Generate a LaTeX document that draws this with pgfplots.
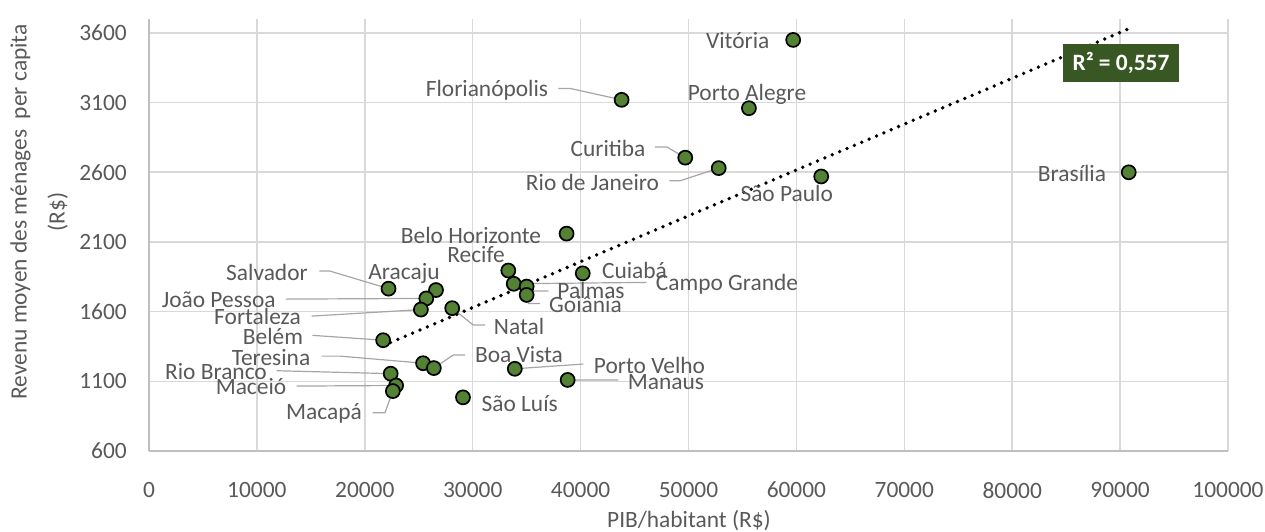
\documentclass[border=0pt]{standalone}
\usepackage{fontspec}
\setmainfont{Carlito}
\usepackage{pgfplots}
\pgfplotsset{compat=1.18}
\definecolor{txt}{HTML}{595959}
\definecolor{gridc}{HTML}{D9D9D9}
\definecolor{axisc}{HTML}{BFBFBF}
\definecolor{leadc}{HTML}{A6A6A6}
\definecolor{ptgreen}{HTML}{548235}
\definecolor{r2green}{HTML}{385723}

\begin{document}
\begin{tikzpicture}[font=\fontsize{11.7}{14}\selectfont,
    lab/.style={color=txt, inner sep=0pt, anchor=center},
    lead/.style={color=leadc, line width=0.6pt}]
% 1 px of the reference = 0.5pt, axis corner at (0,0)
\path[use as bounding box] (-74.5pt,-40pt) rectangle (558pt,225.5pt);
\begin{axis}[
    at={(0,0)}, anchor=south west,
    scale only axis,
    width=539.5pt, height=216pt,
    xmin=0, xmax=100000,
    ymin=600, ymax=3700,
    xtick={0,10000,...,100000},
    ytick={600,1100,...,3600},
    scaled ticks=false,
    /pgf/number format/fixed,
    /pgf/number format/precision=0,
    /pgf/number format/1000 sep={},
    /pgf/number format/assume math mode=true,
    tick label style={color=txt, font=\fontsize{11.7}{14}\selectfont},
    xticklabel style={yshift=-12pt},
    yticklabel style={xshift=-7.6pt},
    major tick length=0pt,
    grid=major,
    major grid style={color=gridc, line width=0.8pt},
    axis x line*=bottom, axis y line*=left,
    axis line style={color=axisc, line width=0.8pt, -},
    clip=false,
]

% trendline
\addplot[black, line width=1.9pt, line cap=round, dash pattern=on 0pt off 4pt]
    coordinates {(21700,1356) (90800,3630)};

% capitals: PIB/habitant, revenu moyen per capita
\addplot[only marks, mark=*, mark size=3.5pt,
    mark options={fill=ptgreen, draw=black, line width=0.85pt}]
    table {
x y
59700 3550
43800 3120
55600 3060
49700 2705
52800 2630
62300 2570
90800 2600
38700 2160
33300 1895
40200 1875
33800 1800
35000 1780
35000 1720
28100 1625
22200 1765
26600 1755
25700 1695
25200 1615
21700 1395
25400 1230
26400 1195
22400 1155
22900 1070
22600 1030
33900 1190
38800 1110
29100 985
};

% leader lines
\draw[lead] (axis cs:37934,3201) -- (axis cs:39083,3201) -- (axis cs:43800,3120);
\draw[lead] (axis cs:46896,2782) -- (axis cs:47981,2782) -- (axis cs:49700,2705);
\draw[lead] (axis cs:48221,2539) -- (axis cs:49213,2539) -- (axis cs:52800,2630);
\draw[lead] (axis cs:46127,1810) -- (axis cs:33800,1800);
\draw[lead] (axis cs:37007,1748) -- (axis cs:35469,1748) -- (axis cs:35000,1780);
\draw[lead] (axis cs:36238,1659) -- (axis cs:35154,1659) -- (axis cs:35000,1720);
\draw[lead] (axis cs:31140,1504) -- (axis cs:30056,1504) -- (axis cs:28100,1625);
\draw[lead] (axis cs:15783,1891) -- (axis cs:16775,1891) -- (axis cs:22200,1765);
\draw[lead] (axis cs:12669,1690) -- (axis cs:25700,1695);
\draw[lead] (axis cs:15079,1568) -- (axis cs:25200,1615);
\draw[lead] (axis cs:15135,1430) -- (axis cs:21700,1395);
\draw[lead] (axis cs:16006,1281) -- (axis cs:17702,1281) -- (axis cs:25400,1230);
\draw[lead] (axis cs:29287,1289) -- (axis cs:28203,1289) -- (axis cs:26400,1195);
\draw[lead] (axis cs:11835,1176) -- (axis cs:22400,1155);
\draw[lead] (axis cs:13689,1066) -- (axis cs:22900,1070);
\draw[lead] (axis cs:20733,875) -- (axis cs:21872,875) -- (axis cs:22600,1030);
\draw[lead] (axis cs:40251,1224) -- (axis cs:33900,1190);
\draw[lead] (axis cs:43495,1109) -- (axis cs:38800,1110);

% city names
\node[lab] at (axis cs:54561,3548) {Vitória};
\node[lab] at (axis cs:31326,3189) {Florianópolis};
\node[lab] at (axis cs:55423,3158) {Porto Alegre};
\node[lab] at (axis cs:42540,2771) {Curitiba};
\node[lab] at (axis cs:41104,2527) {Rio de Janeiro};
\node[lab] at (axis cs:59102,2448) {São Paulo};
\node[lab] at (axis cs:85544,2592) {Brasília};
\node[lab] at (axis cs:29843,2149) {Belo Horizonte};
\node[lab] at (axis cs:30306,2011) {Recife};
\node[lab] at (axis cs:44996,1898) {Cuiabá};
\node[lab] at (axis cs:53569,1798) {Campo Grande};
\node[lab] at (axis cs:40965,1750) {Palmas};
\node[lab] at (axis cs:40455,1652) {Goiânia};
\node[lab] at (axis cs:34292,1497) {Natal};
\node[lab] at (axis cs:10936,1879) {Salvador};
\node[lab] at (axis cs:23633,1874) {Aracaju};
\node[lab] at (axis cs:6460,1683) {João Pessoa};
\node[lab] at (axis cs:10056,1563) {Fortaleza};
\node[lab] at (axis cs:11492,1420) {Belém};
\node[lab] at (axis cs:11307,1272) {Teresina};
\node[lab] at (axis cs:34292,1289) {Boa Vista};
\node[lab] at (axis cs:6210,1169) {Rio Branco};
\node[lab] at (axis cs:9453,1061) {Maceió};
\node[lab] at (axis cs:16219,870) {Macapá};
\node[lab] at (axis cs:46386,1217) {Porto Velho};
\node[lab] at (axis cs:47916,1097) {Manaus};
\node[lab] at (axis cs:34356,942) {São Luís};

\node[fill=r2green, text=white, font=\fontsize{11.7}{14}\selectfont\bfseries,
    minimum width=58pt, minimum height=19pt, inner sep=0pt]
    at (axis cs:90085,3383) {R² = 0,557};
\end{axis}

\node[color=txt, rotate=90, align=center, font=\fontsize{11.7}{19}\selectfont]
    at (-55pt,119.5pt) {Revenu moyen des ménages~ per capita\\(R\$)};
\node[color=txt] at (270pt,-35pt) {PIB/habitant (R\$)};
\end{tikzpicture}
\end{document}
